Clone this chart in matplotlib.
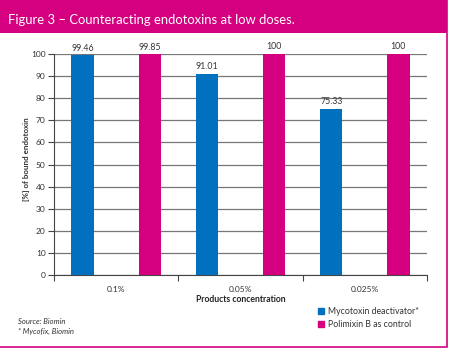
import matplotlib.pyplot as plt
from matplotlib.patches import Rectangle, Patch

groups = ['0.1%', '0.05%', '0.025%']
myco = [99.46, 91.01, 75.33]
polim = [99.85, 100, 100]
myco_lbl = ['99.46', '91.01', '75.33']
polim_lbl = ['99.85', '100', '100']

blue = '#0070bf'
pink = '#d5007f'
plt.rcParams['font.family'] = ['Lato', 'DejaVu Sans']

fig = plt.figure(figsize=(4.51, 3.5), dpi=100)
fig.patch.set_facecolor('white')

# header band + frame
fig.patches.append(Rectangle((0, 1 - 33/350), 447/451, 33/350, transform=fig.transFigure,
                             facecolor=pink, edgecolor='none', zorder=0))
fig.patches.append(Rectangle((-0.01, 3/350), 446.5/451 + 0.01, 1, transform=fig.transFigure,
                             facecolor='none', edgecolor=pink, lw=1.2, zorder=0))
fig.text(8/451, 1 - 20/350, 'Figure 3 \u2013 Counteracting endotoxins at low doses.',
         color='white', fontsize=9.4, va='center', ha='left')

ax = fig.add_axes([54/451, 1 - 275/350, 373/451, 221/350])
x = range(len(groups))
w = 0.18
xb = [i - 0.27 for i in x]
xp = [i + 0.27 for i in x]
ax.bar(xb, myco, w, color=blue, zorder=3)
ax.bar(xp, polim, w, color=pink, zorder=3)
for xi, v, t in zip(xb, myco, myco_lbl):
    ax.text(xi, v + 1.2, t, ha='center', va='bottom', fontsize=6.3, color='#333333')
for xi, v, t in zip(xp, polim, polim_lbl):
    ax.text(xi, v + 1.2, t, ha='center', va='bottom', fontsize=6.3, color='#333333')

ax.set_xlim(-0.5, 2.5)
ax.set_ylim(0, 100)
ax.set_yticks(range(0, 101, 10))
ax.tick_params(axis='y', labelsize=6, length=4, color='#444444', labelcolor='#333333', pad=2)
ax.set_xticks([-0.5, 0.5, 1.5, 2.5])
ax.set_xticklabels([])
ax.set_xticks(list(x), minor=True)
ax.set_xticklabels(groups, minor=True)
ax.tick_params(axis='x', which='major', length=4, color='#444444')
ax.tick_params(axis='x', which='minor', length=0, labelsize=6, labelcolor='#333333', pad=8)
ax.yaxis.grid(True, color='#777777', lw=0.9, zorder=0)
for s in ['top', 'right']:
    ax.spines[s].set_visible(False)
ax.spines['left'].set_color('#444444')
ax.spines['bottom'].set_color('#444444')
fig.text(27/451, 1 - 159/350, '[%] of bound endotoxin', fontsize=5.8, fontweight='bold',
         color='#333333', rotation=90, ha='center', va='center')
fig.text(241/451, 1 - 300/350, 'Products concentration', fontsize=6.2, fontweight='bold',
         ha='center', va='center', color='#222222')

handles = [Patch(color=blue), Patch(color=pink)]
fig.legend(handles, ['Mycotoxin deactivator*', 'Polimixin B as control'],
           loc='upper left', bbox_to_anchor=(310/451, 1 - 299/350), frameon=False,
           fontsize=6.3, handlelength=0.7, handleheight=0.7, handletextpad=0.4,
           labelspacing=0.5, labelcolor='#333333')

fig.text(18/451, 1 - 322/350, 'Source: Biomin', fontsize=5.5, style='italic', color='#333333', va='center')
fig.text(18/451, 1 - 331/350, '* Mycofix, Biomin', fontsize=5.5, style='italic', color='#333333', va='center')

fig.savefig('out.png', dpi=100)
